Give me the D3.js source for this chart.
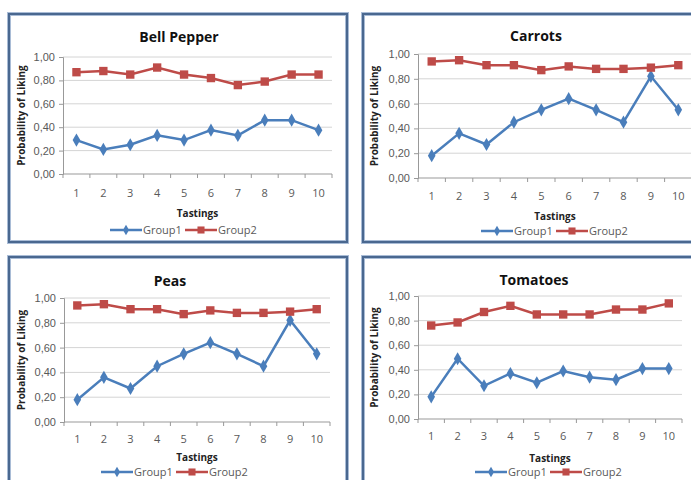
<!DOCTYPE html>
<html>
<head>
<meta charset="utf-8">
<script src="https://cdn.jsdelivr.net/npm/d3@7"></script>
<style>
  html, body { margin: 0; padding: 0; background: #fff; }
  svg { display: block; font-family: 'Open Sans', 'Liberation Sans', sans-serif; }
</style>
</head>
<body>
<svg id="chart" width="691" height="480"></svg>
<script>
// tastings 1..10
const tastings = [1, 2, 3, 4, 5, 6, 7, 8, 9, 10]
const yTicks = [0, 0.2, 0.4, 0.6, 0.8, 1.0]
const seriesNames = ['Group1', 'Group2']

const bellPepperG1 = [0.29, 0.21, 0.25, 0.33, 0.29, 0.375, 0.33, 0.46, 0.46, 0.375]
const bellPepperG2 = [0.87, 0.88, 0.85, 0.91, 0.85, 0.82, 0.76, 0.79, 0.85, 0.85]
const carrotsG1 = [0.18, 0.36, 0.27, 0.45, 0.55, 0.64, 0.55, 0.45, 0.82, 0.55]
const carrotsG2 = [0.94, 0.95, 0.91, 0.91, 0.87, 0.90, 0.88, 0.88, 0.89, 0.91]
const peasG1 = [0.18, 0.36, 0.27, 0.45, 0.55, 0.64, 0.55, 0.45, 0.82, 0.55]
const peasG2 = [0.94, 0.95, 0.91, 0.91, 0.87, 0.90, 0.88, 0.88, 0.89, 0.91]
const tomatoesG1 = [0.18, 0.49, 0.27, 0.37, 0.295, 0.39, 0.34, 0.32, 0.41, 0.41]
const tomatoesG2 = [0.76, 0.785, 0.87, 0.92, 0.85, 0.85, 0.85, 0.89, 0.89, 0.94]

const blue = '#4a7ebb'
const red = '#be4b48'
const fmt = d3.formatLocale({ decimal: ',', thousands: '.', grouping: [3], currency: ['', ''] }).format('.2f')

const svg = d3.select('#chart')

// layout of each panel (frame + plot area + text rows)
const panels = [
  { title: 'Bell Pepper', g1: bellPepperG1, g2: bellPepperG2,
    frame: [9, 14, 338, 228], plot: [63, 332, 57, 174], titleX: 179, titleY: 42,
    tickY: 197, axisTitleY: 217, legendY: 230, yLabelX: 25, legendX: 184 },
  { title: 'Carrots', g1: carrotsG1, g2: carrotsG2,
    frame: [363, 14, 345, 228], plot: [418, 692, 54, 178], titleX: 536, titleY: 41,
    tickY: 200, axisTitleY: 220, legendY: 231, yLabelX: 378, legendX: 555 },
  { title: 'Peas', g1: peasG1, g2: peasG2,
    frame: [9, 257, 338, 240], plot: [64, 330, 298, 422], titleX: 170, titleY: 286,
    tickY: 443, axisTitleY: 461, legendY: 472, yLabelX: 25, legendX: 175 },
  { title: 'Tomatoes', g1: tomatoesG1, g2: tomatoesG2,
    frame: [363, 257, 345, 240], plot: [418, 682, 296, 419], titleX: 534, titleY: 285,
    tickY: 440, axisTitleY: 462, legendY: 472, yLabelX: 378, legendX: 549 }
]

panels.forEach(drawPanel)

function drawPanel(p) {
  const [fx, fy, fw, fh] = p.frame
  const [x0, x1, yTop, yBottom] = p.plot
  const g = svg.append('g')

  // frame
  g.append('rect').attr('x', fx).attr('y', fy).attr('width', fw).attr('height', fh)
    .attr('fill', '#fff').attr('stroke', '#a9bcd6').attr('stroke-width', 4)
  g.append('rect').attr('x', fx).attr('y', fy).attr('width', fw).attr('height', fh)
    .attr('fill', 'none').attr('stroke', '#4a6890').attr('stroke-width', 2)

  const x = d3.scaleBand().domain(tastings).range([x0, x1])
  const y = d3.scaleLinear().domain([0, 1]).range([yBottom, yTop])

  // gridlines
  g.append('g').selectAll('line').data(yTicks.slice(1)).join('line')
    .attr('x1', x0).attr('x2', x1)
    .attr('y1', d => y(d)).attr('y2', d => y(d))
    .attr('stroke', '#d4d4d4').attr('stroke-width', 1)

  // y axis
  const yAxis = g.append('g').attr('transform', `translate(${x0},0)`)
    .call(d3.axisLeft(y).tickValues(yTicks).tickFormat(fmt).tickSize(4).tickPadding(4))
  yAxis.select('.domain').attr('stroke', '#999')
  yAxis.selectAll('.tick line').attr('stroke', '#999')
  yAxis.selectAll('.tick text').attr('fill', '#595959').attr('font-size', 11)

  // x axis: ticks between categories
  const xAxis = g.append('g').attr('transform', `translate(0,${yBottom})`)
  xAxis.append('line').attr('x1', x0).attr('x2', x1).attr('stroke', '#999')
  const bounds = tastings.map(d => x(d)).concat([x1])
  xAxis.selectAll('line.t').data(bounds).join('line').attr('class', 't')
    .attr('x1', d => d).attr('x2', d => d).attr('y1', 0).attr('y2', 4).attr('stroke', '#999')
  g.append('g').selectAll('text').data(tastings).join('text')
    .attr('x', d => x(d) + x.bandwidth() / 2).attr('y', p.tickY)
    .attr('text-anchor', 'middle').attr('fill', '#595959').attr('font-size', 11)
    .text(d => d)

  // titles
  g.append('text').attr('x', p.titleX).attr('y', p.titleY).attr('text-anchor', 'middle')
    .attr('font-weight', 'bold').attr('font-size', 14).attr('fill', '#111').text(p.title)
  g.append('text').attr('x', (x0 + x1) / 2).attr('y', p.axisTitleY).attr('text-anchor', 'middle')
    .attr('font-weight', 'bold').attr('font-size', 10).attr('fill', '#222').text('Tastings')
  g.append('text')
    .attr('transform', `translate(${p.yLabelX},${(yTop + yBottom) / 2}) rotate(-90)`)
    .attr('text-anchor', 'middle').attr('font-weight', 'bold').attr('font-size', 10)
    .attr('fill', '#222').text('Probability of Liking')

  // series
  const line = d3.line().x((d, i) => x(tastings[i]) + x.bandwidth() / 2).y(d => y(d))
  const series = [
    { vals: p.g1, color: blue, shape: d3.symbolDiamond, size: 50 },
    { vals: p.g2, color: red, shape: d3.symbolSquare, size: 70 }
  ]
  series.forEach(s => {
    g.append('path').datum(s.vals).attr('d', line)
      .attr('fill', 'none').attr('stroke', s.color).attr('stroke-width', 2.5)
    g.append('g').selectAll('path').data(s.vals).join('path')
      .attr('transform', (d, i) => `translate(${x(tastings[i]) + x.bandwidth() / 2},${y(d)})`)
      .attr('d', d3.symbol(s.shape, s.size)).attr('fill', s.color)
  })

  // legend
  const lg = g.append('g').attr('transform', `translate(${p.legendX},${p.legendY})`)
  const items = [
    { name: seriesNames[0], color: blue, shape: d3.symbolDiamond, size: 32, dx: -74 },
    { name: seriesNames[1], color: red, shape: d3.symbolSquare, size: 50, dx: 1 }
  ]
  items.forEach(it => {
    const ig = lg.append('g').attr('transform', `translate(${it.dx},0)`)
    ig.append('line').attr('x1', 0).attr('x2', 32).attr('stroke', it.color).attr('stroke-width', 2.5)
    ig.append('path').attr('transform', 'translate(16,0)').attr('d', d3.symbol(it.shape, it.size)).attr('fill', it.color)
    ig.append('text').attr('x', 33).attr('y', 4).attr('font-size', 11).attr('fill', '#595959').text(it.name)
  })
}
</script>
</body>
</html>
